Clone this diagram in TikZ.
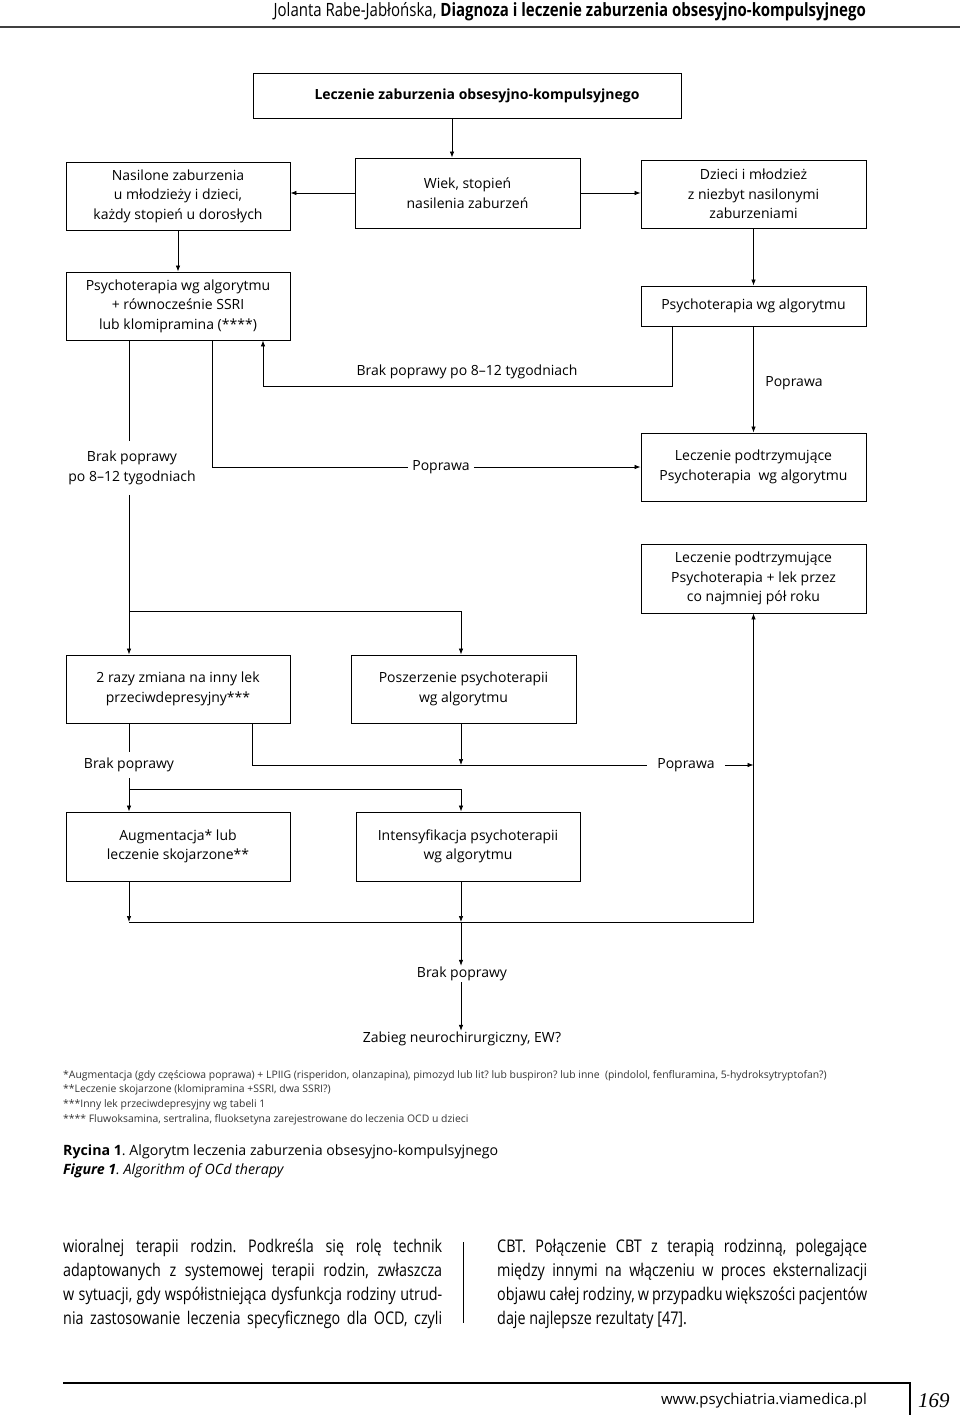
\documentclass[tikz,border=0pt]{standalone}
\usepackage{fontspec}
\setmainfont{Open Sans}
\newfontfamily\condfont[FakeStretch=0.82]{Open Sans}
\newfontfamily\pagenumfont{Liberation Serif}
\usetikzlibrary{positioning,calc,arrows.meta}
\frenchspacing

\tikzset{
  box/.style={draw, line width=0.9pt, minimum width=224pt, inner sep=0pt, align=center, font=\fontsize{14}{19.5}\selectfont},
  lbl/.style={inner sep=3pt, align=center, font=\fontsize{14}{19.5}\selectfont},
  conn/.style={line width=0.7pt},
  arr/.style={conn, -{Latex[length=6pt,width=4.5pt]}},
  note/.style={anchor=base west, inner sep=0pt, text=black!80, font=\fontsize{10.4}{12}\selectfont},
  bodyline/.style={anchor=base west, inner sep=0pt, font=\condfont\fontsize{17.5}{24}\selectfont},
}

\begin{document}
\begin{tikzpicture}[x=1pt,y=-1pt]
    \useasboundingbox (0,0) rectangle (960,1415);

    % Running head
    \node[anchor=base east, inner sep=0pt, font=\condfont\fontsize{18.3}{20}\selectfont] (head) at (866,17)
        {Jolanta Rabe-Jabłońska, \textbf{Diagnoza i leczenie zaburzenia obsesyjno-kompulsyjnego}};
    \draw[line width=1.5pt, black!75] (0,27) -- (960,27);

    % Columns used by the connectors
    \coordinate (colA) at (129,0);
    \coordinate (colB) at (212,0);
    \coordinate (colC) at (252,0);
    \coordinate (colD) at (263,0);
    \coordinate (colE) at (461,0);
    \coordinate (colF) at (672,0);

    % Boxes
    \node[box, minimum width=428pt, minimum height=45pt, font=\bfseries\fontsize{14}{16}\selectfont] (title) at (467,95.5)
        {\hspace*{20pt}Leczenie zaburzenia obsesyjno-kompulsyjnego};
    \node[box, minimum height=68pt] (severe) at (178,196) {Nasilone zaburzenia\\u młodzieży i dzieci,\\każdy stopień u dorosłych};
    \node[box, minimum width=225pt, minimum height=70pt] (age) at (467.5,193) {Wiek, stopień\\nasilenia zaburzeń};
    \node[box, minimum width=225pt, minimum height=68pt] (mild) at (753.5,194) {Dzieci i młodzież\\z niezbyt nasilonymi\\zaburzeniami};
    \node[box, minimum height=68pt] (combo) at (178,306) {Psychoterapia wg algorytmu\\+ równocześnie SSRI\\lub klomipramina (****)};
    \node[box, minimum width=225pt, minimum height=40pt] (psy) at (753.5,306) {Psychoterapia wg algorytmu};
    \node[box, minimum width=225pt, minimum height=68pt] (maintA) at (753.5,467) {Leczenie podtrzymujące\\Psychoterapia\ \ wg algorytmu};
    \node[box, minimum width=225pt, minimum height=69pt] (maintB) at (753.5,578.5) {Leczenie podtrzymujące\\Psychoterapia + lek przez\\co najmniej pół roku};
    \node[box, minimum height=68pt] (switch) at (178,689) {2 razy zmiana na inny lek\\przeciwdepresyjny***};
    \node[box, minimum width=225pt, minimum height=68pt] (extend) at (463.5,689) {Poszerzenie psychoterapii\\wg algorytmu};
    \node[box, minimum height=69pt] (augm) at (178,846.5) {Augmentacja* lub\\leczenie skojarzone**};
    \node[box, minimum height=69pt] (intens) at (468,846.5) {Intensyfikacja psychoterapii\\wg algorytmu};

    % Labels on the connectors
    \node[lbl] (noimpA) at (467,372) {Brak poprawy po 8–12 tygodniach};
    \node[lbl] (impA) at (794,383) {Poprawa};
    \node[lbl, inner ysep=10pt] (noimpB) at (132,468) {Brak poprawy\\po 8–12 tygodniach};
    \node[lbl, inner xsep=4pt] (impB) at (441,467) {Poprawa};
    \node[lbl, inner ysep=6pt] (noimpC) at (129,765) {Brak poprawy};
    \node[lbl, inner xsep=10pt] (impC) at (686,765) {Poprawa};
    \node[lbl, inner ysep=1pt] (noimpD) at (462,974) {Brak poprawy};
    \node[lbl, inner ysep=1pt] (surgery) at (462,1039) {Zabieg neurochirurgiczny, EW?};

    % Connectors
    \draw[arr] ([xshift=-15pt]title.south) -- ([xshift=-15pt]title.south |- age.north);
    \draw[arr] (age.west) -- (age.west -| severe.east);
    \draw[arr] (age.east) -- (age.east -| mild.west);
    \draw[arr] (severe.south) -- (combo.north);
    \draw[arr] (mild.south) -- (psy.north);

    % Back loop and first improvement
    \coordinate (loopR) at (672,386);
    \coordinate (loopL) at (263,386);
    \draw[arr] (psy.south -| colF) -- (loopR) -- (loopL) -- (combo.south -| colD);
    \draw[arr] (psy.south) -- (maintA.north);
    \draw[conn] (combo.south -| colB) -- (colB |- impB) -- (impB.west);
    \draw[arr] (impB.east) -- (maintA.west);

    % Second step
    \coordinate (splitA) at (129,611);
    \draw[conn] (combo.south -| colA) -- (colA |- noimpB.north);
    \draw[arr] (colA |- noimpB.south) -- (switch.north -| colA);
    \draw[arr] (splitA) -- (splitA -| colE) -- (extend.north -| colE);
    \draw[conn] (switch.south -| colC) -- (colC |- impC) -- (impC.west);
    \draw[arr] (extend.south -| colE) -- (colE |- impC);
    \draw[arr] (impC.east) -- (impC -| maintB);

    % Third step
    \coordinate (splitB) at (129,789);
    \draw[conn] (switch.south -| colA) -- (colA |- noimpC.north);
    \draw[arr] (colA |- noimpC.south) -- (augm.north -| colA);
    \draw[arr] (splitB) -- (splitB -| colE) -- (intens.north -| colE);

    % Merge and last resort
    \coordinate (merge) at (129,922);
    \draw[arr] (augm.south -| colA) -- (merge);
    \draw[arr] (intens.south -| colE) -- (merge -| colE);
    \draw[arr] (merge) -- (merge -| maintB) -- (maintB.south);
    \draw[arr] (merge -| colE) -- (colE |- noimpD.north);
    \draw[arr] (colE |- noimpD.south) -- (colE |- surgery.north);

    % Footnotes
    \node[note] (fnA) at (63,1078) {*Augmentacja (gdy częściowa poprawa) + LPIIG (risperidon, olanzapina), pimozyd lub lit? lub buspiron? lub inne\ \ (pindolol, fenfluramina, 5-hydroksytryptofan?)};
    \node[note] (fnB) at (63,1092) {**Leczenie skojarzone (klomipramina +SSRI, dwa SSRI?)};
    \node[note] (fnC) at (63,1107) {***Inny lek przeciwdepresyjny wg tabeli 1};
    \node[note] (fnD) at (63,1122) {**** Fluwoksamina, sertralina, fluoksetyna zarejestrowane do leczenia OCD u dzieci};

    % Caption
    \node[anchor=base west, inner sep=0pt, font=\fontsize{14.2}{16}\selectfont] (capPL) at (63,1155)
        {\textbf{Rycina 1}. Algorytm leczenia zaburzenia obsesyjno-kompulsyjnego};
    \node[anchor=base west, inner sep=0pt, font=\itshape\fontsize{14.2}{16}\selectfont] (capEN) at (63,1174)
        {\textbf{Figure 1}. Algorithm of OCd therapy};

    % Body text
    \node[bodyline] (bodyL1) at (63,1252) {\makebox[379pt][s]{wioralnej terapii rodzin. Podkreśla się rolę technik}};
    \node[bodyline] (bodyL2) at (63,1276) {\makebox[379pt][s]{adaptowanych z systemowej terapii rodzin, zwłaszcza}};
    \node[bodyline] (bodyL3) at (63,1300) {\makebox[379pt][s]{w sytuacji, gdy współistniejąca dysfunkcja rodziny utrud-}};
    \node[bodyline] (bodyL4) at (63,1324) {\makebox[379pt][s]{nia zastosowanie leczenia specyficznego dla OCD, czyli}};
    \draw[line width=0.8pt] (463,1242) -- (463,1323);
    \node[bodyline] (bodyR1) at (497,1252) {\makebox[370pt][s]{CBT. Połączenie CBT z terapią rodzinną, polegające}};
    \node[bodyline] (bodyR2) at (497,1276) {\makebox[370pt][s]{między innymi na włączeniu w proces eksternalizacji}};
    \node[bodyline] (bodyR3) at (497,1300) {\makebox[370pt][s]{objawu całej rodziny, w przypadku większości pacjentów}};
    \node[bodyline] (bodyR4) at (497,1324) {daje najlepsze rezultaty [47].};

    % Running foot
    \draw[line width=1.2pt] (63,1383) -- (910,1383) -- (910,1415);
    \node[anchor=base east, inner sep=0pt, font=\fontsize{15}{18}\selectfont] (site) at (867,1404) {www.psychiatria.viamedica.pl};
    \node[anchor=base west, inner sep=0pt, font=\pagenumfont\itshape\fontsize{21}{24}\selectfont] (pagenum) at (918,1407) {169};
\end{tikzpicture}
\end{document}
